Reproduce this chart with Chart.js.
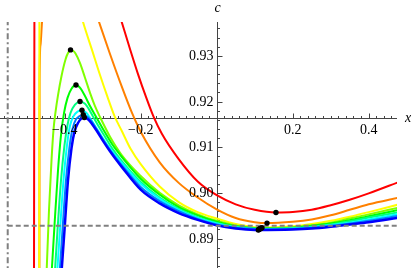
<!DOCTYPE html>
<html>
<head>
<meta charset="utf-8">
<script src="https://cdn.jsdelivr.net/npm/chart.js@4.4.0/dist/chart.umd.min.js"></script>
<style>
  html, body { margin: 0; padding: 0; background: #fff; }
  #wrap { width: 415px; height: 268px; }
</style>
</head>
<body>
<div id="wrap"><canvas id="plot" width="415" height="268"></canvas></div>
<script>
// c(x) curves, values (points above the frame mark the off-screen peak)
const redX = [-0.4808, -0.4797, -0.37, -0.265, -0.25, -0.2282, -0.2071, -0.1861, -0.1668, -0.1447, -0.1, -0.05, 0, 0.05, 0.1, 0.156, 0.2, 0.25, 0.3, 0.35, 0.4, 0.48];
const redY = [0.8821, 0.9411, 0.9600, 0.9414, 0.9374, 0.9315, 0.9260, 0.9210, 0.9168, 0.9130, 0.9074, 0.9025, 0.8995, 0.8975, 0.8963, 0.8957, 0.8958, 0.8963, 0.8973, 0.8985, 0.8999, 0.9024];

const orangeX = [-0.4666, -0.4661, -0.4637, -0.4597, -0.4558, -0.39, -0.3203, -0.3097, -0.2808, -0.25, -0.2229, -0.2, -0.15, -0.1, -0.05, 0, 0.05, 0.1, 0.1324, 0.2, 0.25, 0.3, 0.35, 0.4, 0.48];
const orangeY = [0.8821, 0.9247, 0.9324, 0.9374, 0.9405, 0.9500, 0.9400, 0.9374, 0.9304, 0.9233, 0.9175, 0.9134, 0.9067, 0.9022, 0.8990, 0.8964, 0.8945, 0.8936, 0.8934, 0.8937, 0.8942, 0.8951, 0.8963, 0.8975, 0.8990];

const yellowX = [-0.4671, -0.4666, -0.41, -0.365, -0.3518, -0.3282, -0.3071, -0.2874, -0.2689, -0.25, -0.2263, -0.2, -0.15, -0.1, -0.05, 0, 0.05, 0.1, 0.1192, 0.2, 0.25, 0.3, 0.35, 0.4, 0.48];
const yellowY = [0.8821, 0.9405, 0.9550, 0.9414, 0.9374, 0.9313, 0.9258, 0.9210, 0.9168, 0.9136, 0.9096, 0.9063, 0.9014, 0.8980, 0.8958, 0.8944, 0.8932, 0.8925, 0.8924, 0.8927, 0.8932, 0.8939, 0.8948, 0.8958, 0.8975];

const chartX = [-0.4479, -0.4413, -0.4347, -0.4295, -0.4242, -0.4176, -0.4084, -0.3979, -0.3913, -0.3847, -0.3782, -0.3716, -0.3597, -0.3466, -0.3334, -0.3203, -0.3071, -0.2808, -0.25, -0.2, -0.15, -0.1, -0.05, 0, 0.05, 0.1, 0.1171, 0.2, 0.25, 0.3, 0.35, 0.4, 0.48];
const chartY = [0.8821, 0.8963, 0.9072, 0.9138, 0.9177, 0.9214, 0.9256, 0.9292, 0.9306, 0.9313, 0.9311, 0.9305, 0.9284, 0.9252, 0.9219, 0.9190, 0.9166, 0.9123, 0.9083, 0.9037, 0.9000, 0.8973, 0.8953, 0.8939, 0.8929, 0.8923, 0.8923, 0.8925, 0.8929, 0.8935, 0.8944, 0.8953, 0.8968];

const greenX = [-0.4347, -0.4268, -0.4176, -0.4097, -0.4018, -0.3926, -0.3821, -0.3703, -0.3584, -0.3466, -0.3334, -0.3158, -0.2966, -0.2755, -0.25, -0.2, -0.15, -0.1, -0.05, 0, 0.05, 0.1, 0.1153, 0.2, 0.25, 0.3, 0.35, 0.4, 0.48];
const greenY = [0.8821, 0.8930, 0.9050, 0.9127, 0.9175, 0.9208, 0.9228, 0.9236, 0.9229, 0.9212, 0.9190, 0.9164, 0.9136, 0.9107, 0.9079, 0.9031, 0.8996, 0.8969, 0.8951, 0.8937, 0.8927, 0.8923, 0.8922, 0.8924, 0.8928, 0.8933, 0.8940, 0.8949, 0.8963];

const springX = [-0.4263, -0.4189, -0.4097, -0.4005, -0.3926, -0.3847, -0.3729, -0.3597, -0.3466, -0.3347, -0.3255, -0.3124, -0.2939, -0.2755, -0.25, -0.2, -0.15, -0.1, -0.05, 0, 0.05, 0.1, 0.1139, 0.2, 0.25, 0.3, 0.35, 0.4, 0.48];
const springY = [0.8821, 0.8919, 0.9028, 0.9105, 0.9149, 0.9175, 0.9193, 0.9200, 0.9195, 0.9181, 0.9167, 0.9148, 0.9123, 0.9098, 0.9070, 0.9024, 0.8990, 0.8965, 0.8947, 0.8934, 0.8926, 0.8922, 0.8921, 0.8923, 0.8926, 0.8931, 0.8938, 0.8946, 0.8958];

const cyanX = [-0.4203, -0.4124, -0.4032, -0.3939, -0.3861, -0.3768, -0.3663, -0.3545, -0.3439, -0.3334, -0.3203, -0.3045, -0.2861, -0.2676, -0.25, -0.2, -0.15, -0.1, -0.05, 0, 0.05, 0.1, 0.1121, 0.2, 0.25, 0.3, 0.35, 0.4, 0.48];
const cyanY = [0.8821, 0.8919, 0.9028, 0.9105, 0.9147, 0.9168, 0.9178, 0.9181, 0.9176, 0.9164, 0.9147, 0.9126, 0.9103, 0.9083, 0.9066, 0.9020, 0.8987, 0.8963, 0.8945, 0.8933, 0.8925, 0.8921, 0.8921, 0.8922, 0.8925, 0.8930, 0.8935, 0.8942, 0.8954];

const azureX = [-0.4137, -0.4058, -0.3966, -0.3874, -0.3795, -0.3703, -0.3611, -0.3511, -0.3413, -0.3308, -0.3176, -0.3018, -0.2834, -0.2676, -0.25, -0.2, -0.15, -0.1, -0.05, 0, 0.05, 0.1, 0.1108, 0.2, 0.25, 0.3, 0.35, 0.4, 0.48];
const azureY = [0.8821, 0.8919, 0.9028, 0.9101, 0.9140, 0.9161, 0.9168, 0.9171, 0.9167, 0.9158, 0.9141, 0.9120, 0.9097, 0.9079, 0.9061, 0.9013, 0.8982, 0.8960, 0.8943, 0.8931, 0.8924, 0.8921, 0.8920, 0.8921, 0.8924, 0.8928, 0.8933, 0.8939, 0.8950];

const blueX = [-0.4089, -0.4005, -0.3913, -0.3821, -0.3742, -0.3650, -0.3571, -0.3484, -0.3387, -0.3282, -0.3150, -0.2992, -0.2808, -0.2650, -0.25, -0.2, -0.15, -0.1, -0.05, 0, 0.05, 0.1, 0.1095, 0.2, 0.25, 0.3, 0.35, 0.4, 0.48];
const blueY = [0.8821, 0.8919, 0.9028, 0.9098, 0.9134, 0.9153, 0.9162, 0.9165, 0.9161, 0.9151, 0.9135, 0.9114, 0.9091, 0.9073, 0.9057, 0.9007, 0.8977, 0.8956, 0.8941, 0.8929, 0.8922, 0.8919, 0.8919, 0.8920, 0.8922, 0.8926, 0.8931, 0.8936, 0.8946];

// black dots: local maxima and minima
const maxX = [-0.3847, -0.3703, -0.3597, -0.3545, -0.3511, -0.3484];
const maxY = [0.9313, 0.9236, 0.9200, 0.9181, 0.9171, 0.9165];
const minX = [0.156, 0.1324, 0.1192, 0.1171, 0.1153, 0.1139, 0.1121, 0.1108, 0.1095];
const minY = [0.8957, 0.8934, 0.8924, 0.8923, 0.8922, 0.8921, 0.8921, 0.8920, 0.8919];

const asymC = 0.8928;   // dashed horizontal
const poleX = -0.55;    // dash-dot vertical
const xAxisAt = 0.9165; // where the x axis crosses
const xLabels = [-0.4, -0.2, 0.2, 0.4];
const yLabels = [0.89, 0.90, 0.91, 0.92, 0.93];

const xMin = -0.5703, xMax = 0.4745, yMin = 0.88357, yMax = 0.9374;

const colors = ['#ff0000', '#ff8000', '#ffff00', '#80ff00', '#00ff00', '#00ff80', '#00ffff', '#0080ff', '#0000ff'];
const series = [[redX, redY], [orangeX, orangeY], [yellowX, yellowY], [chartX, chartY], [greenX, greenY],
                [springX, springY], [cyanX, cyanY], [azureX, azureY], [blueX, blueY]];

const pts = (xs, ys) => xs.map((v, i) => ({ x: v, y: ys[i] }));
const serif = '"Liberation Serif", "DejaVu Serif", serif';

// Mathematica-style axes through (0, xAxisAt); lines under the curves, labels over them
const axesPlugin = {
    id: 'mmaAxes',
    beforeDatasetsDraw(chart) {
        const { ctx, chartArea } = chart;
        const sx = chart.scales.x, sy = chart.scales.y;
        const ay = Math.round(sy.getPixelForValue(xAxisAt)) + 0.5;
        const ax = Math.round(sx.getPixelForValue(0)) + 0.5;
        ctx.save();
        ctx.strokeStyle = '#444';
        ctx.lineWidth = 1;
        ctx.beginPath();
        ctx.moveTo(chartArea.left, ay); ctx.lineTo(chartArea.right, ay);
        ctx.moveTo(ax, chartArea.top); ctx.lineTo(ax, chartArea.bottom);
        // x ticks, minor every 0.02
        for (let k = Math.ceil(xMin / 0.02); k * 0.02 <= xMax; k++) {
            const px = Math.round(sx.getPixelForValue(k * 0.02)) + 0.5;
            const len = (k % 10 === 0) ? 5 : 2.5;
            ctx.moveTo(px, ay); ctx.lineTo(px, ay - len);
        }
        // y ticks, minor every 0.002
        for (let k = Math.ceil(yMin / 0.002); k * 0.002 <= yMax; k++) {
            const py = Math.round(sy.getPixelForValue(k * 0.002)) + 0.5;
            const len = (k % 5 === 0) ? 5 : 2.5;
            ctx.moveTo(ax, py); ctx.lineTo(ax + len, py);
        }
        ctx.stroke();
        ctx.restore();
    },
    afterDatasetsDraw(chart) {
        const { ctx } = chart;
        const sx = chart.scales.x, sy = chart.scales.y;
        const ay = Math.round(sy.getPixelForValue(xAxisAt)) + 0.5;
        const ax = Math.round(sx.getPixelForValue(0)) + 0.5;
        ctx.save();
        ctx.fillStyle = '#000';
        ctx.font = '14px ' + serif;
        ctx.textAlign = 'center';
        ctx.textBaseline = 'alphabetic';
        xLabels.forEach(v => {
            const txt = (v < 0 ? '\u2212' : '') + Math.abs(v).toFixed(1);
            ctx.fillText(txt, sx.getPixelForValue(v), ay + 15.5);
        });
        ctx.textAlign = 'right';
        ctx.textBaseline = 'middle';
        yLabels.forEach(v => {
            ctx.fillText(v.toFixed(2), ax - 4, sy.getPixelForValue(v) + 0.5);
        });
        ctx.font = 'italic 14px ' + serif;
        ctx.textAlign = 'center';
        ctx.fillText('c', ax, 8);
        ctx.textAlign = 'left';
        ctx.fillText('x', 405, ay);
        ctx.restore();
    }
};

const datasets = [];
datasets.push({
    data: pts(maxX, maxY).concat(pts(minX, minY)),
    showLine: false, pointRadius: 2.7, pointBackgroundColor: '#000', pointBorderWidth: 0, order: 0
});
datasets.push({
    data: [{ x: poleX, y: asymC }, { x: xMax + 0.01, y: asymC }],
    showLine: true, pointRadius: 0, borderColor: '#808080', borderWidth: 2, borderDash: [5, 3], order: 1
});
datasets.push({
    data: [{ x: poleX, y: yMin - 0.002 }, { x: poleX, y: yMax }],
    showLine: true, pointRadius: 0, borderColor: '#808080', borderWidth: 2, borderDash: [6, 3, 2, 3], order: 2
});
series.forEach((s, i) => {
    datasets.push({
        data: pts(s[0], s[1]),
        showLine: true, pointRadius: 0,
        borderColor: colors[i], borderWidth: i === 8 ? 2.5 : 2,
        cubicInterpolationMode: 'monotone',
        order: 20 - i
    });
});

new Chart(document.getElementById('plot'), {
    type: 'scatter',
    data: { datasets },
    options: {
        responsive: false,
        animation: false,
        devicePixelRatio: 1,
        layout: { autoPadding: false, padding: { left: 0, right: 18, top: 22, bottom: 0 } },
        plugins: { legend: { display: false }, tooltip: { enabled: false } },
        scales: {
            x: { type: 'linear', min: xMin, max: xMax, display: false },
            y: { type: 'linear', min: yMin, max: yMax, display: false }
        }
    },
    plugins: [axesPlugin]
});
</script>
</body>
</html>
